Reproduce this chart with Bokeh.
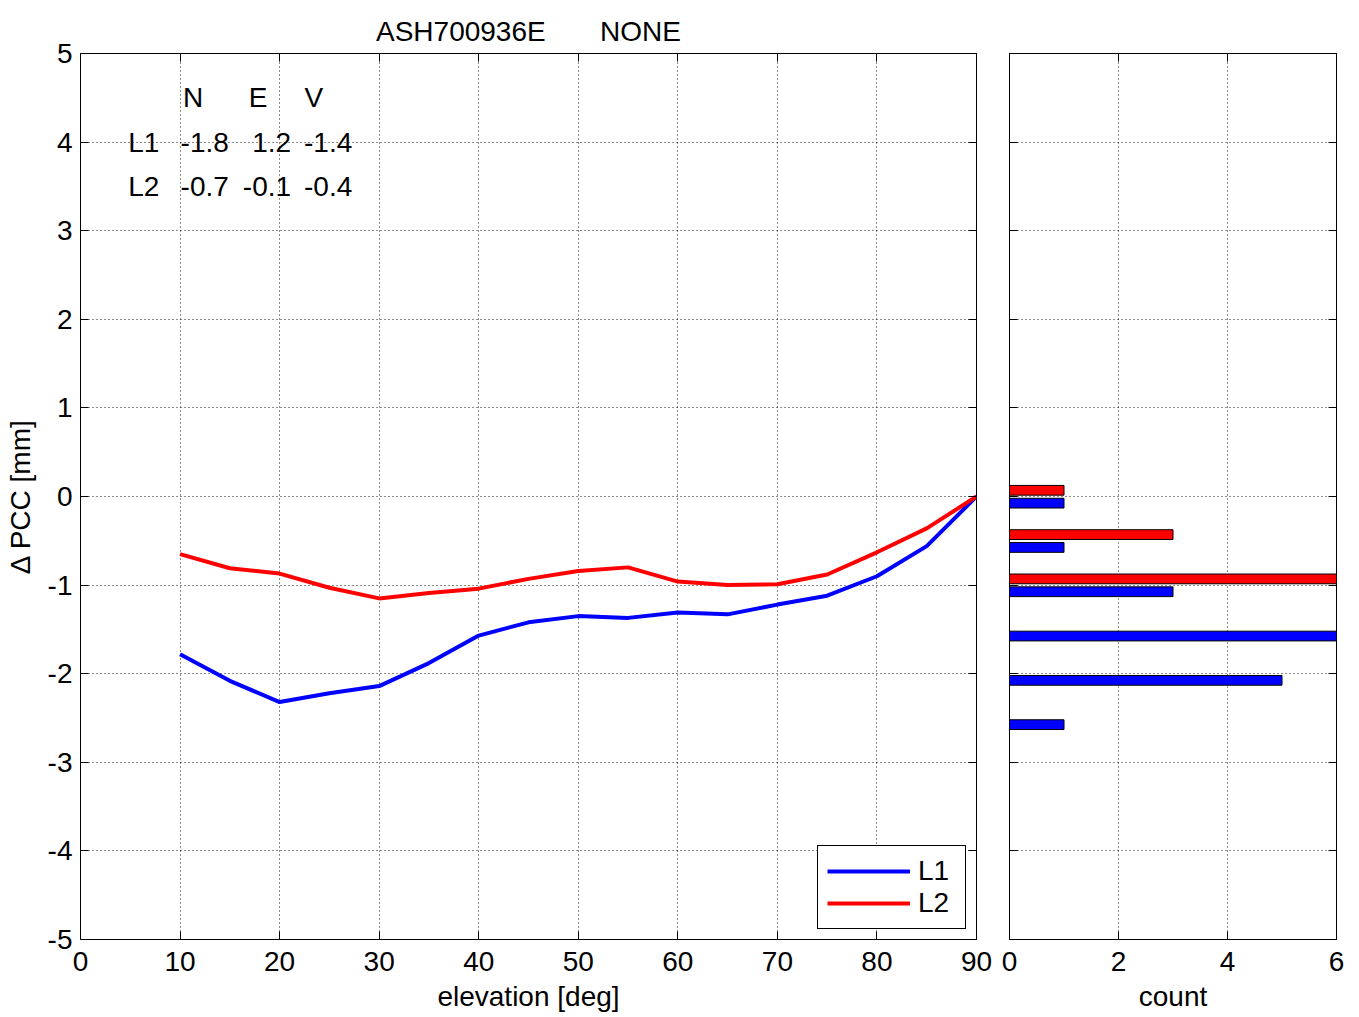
from bokeh.plotting import figure
from bokeh.models import Range1d, FixedTicker, LinearAxis, Legend, LegendItem, Label, PrintfTickFormatter
from bokeh.layouts import row
from bokeh.embed import file_html
from bokeh.resources import INLINE

# ---------------- data ----------------
elevation = [10, 15, 20, 25, 30, 35, 40, 45, 50, 55, 60, 65, 70, 75, 80, 85, 90]
pcc_L1 = [-1.78, -2.08, -2.32, -2.22, -2.14, -1.88, -1.57, -1.42, -1.35, -1.37,
          -1.31, -1.33, -1.22, -1.12, -0.90, -0.56, 0.0]
pcc_L2 = [-0.65, -0.81, -0.87, -1.03, -1.15, -1.09, -1.04, -0.93, -0.84, -0.80,
          -0.96, -1.00, -0.99, -0.88, -0.63, -0.36, 0.0]

bin_centers = [0.0, -0.5, -1.0, -1.5, -2.0, -2.5]
count_L1 = [1, 1, 3, 6, 5, 1]
count_L2 = [1, 3, 13, 0, 0, 0]

table_cols = ["N", "E", "V"]
table_rows = ["L1", "L2"]
table_vals = [[-1.8, 1.2, -1.4], [-0.7, -0.1, -0.4]]

x_ticks = list(range(0, 91, 10))
y_ticks = list(range(-5, 6))
count_ticks = [0, 2, 4, 6]
title_antenna = "ASH700936E"
title_radome = "NONE"
x_label = "elevation [deg]"
y_label = "\u0394 PCC [mm]"
count_label = "count"

# ---------------- style ----------------
FONT = "Liberation Sans"
FS = "28px"
BLUE = "#0000ff"
RED = "#ff0000"
GRID = "#000000"


def base_style(p, xt, yt, ylabels=True):
    p.outline_line_color = "black"
    p.outline_line_width = 1
    p.background_fill_color = "white"
    p.border_fill_color = "white"
    for ax in p.xaxis + p.yaxis:
        ax.major_tick_in = 8
        ax.major_tick_out = 0
        ax.minor_tick_in = 0
        ax.minor_tick_out = 0
        ax.axis_line_color = None
        ax.major_tick_line_color = "black"
        ax.major_label_text_font = FONT
        ax.major_label_text_font_size = FS
        ax.major_label_text_color = "black"
        ax.axis_label_text_font = FONT
        ax.axis_label_text_font_size = FS
        ax.axis_label_text_font_style = "normal"
        ax.axis_label_text_color = "black"
        ax.formatter = PrintfTickFormatter(format="%d")
    p.xaxis.ticker = FixedTicker(ticks=xt)
    p.yaxis.ticker = FixedTicker(ticks=yt)
    p.xaxis.major_label_standoff = 12
    p.yaxis.major_label_standoff = 8
    if not ylabels:
        p.yaxis.major_label_text_font_size = "0px"
        p.yaxis.major_label_standoff = 0
    p.xgrid.ticker = FixedTicker(ticks=xt)
    p.ygrid.ticker = FixedTicker(ticks=yt)
    p.grid.grid_line_color = GRID
    p.grid.grid_line_alpha = 0.9
    p.grid.grid_line_dash = "1 3"
    p.grid.grid_line_width = 1
    # mirrored ticks
    top = LinearAxis(ticker=FixedTicker(ticks=xt), major_label_text_font_size="0px",
                     major_label_standoff=0, major_tick_in=8, major_tick_out=0,
                     minor_tick_in=0, minor_tick_out=0, axis_line_color=None)
    right = LinearAxis(ticker=FixedTicker(ticks=yt), major_label_text_font_size="0px",
                       major_label_standoff=0, major_tick_in=8, major_tick_out=0,
                       minor_tick_in=0, minor_tick_out=0, axis_line_color=None)
    p.add_layout(top, "above")
    p.add_layout(right, "right")


# ---------------- main plot ----------------
p = figure(frame_width=896, frame_height=886, output_backend="svg", toolbar_location=None,
           x_range=Range1d(0, 90), y_range=Range1d(-5, 5),
           min_border_left=80, min_border_right=16, min_border_top=53, min_border_bottom=76)
# title: two parts separated by a wide gap (non-breaking spaces keep the gap in SVG)
p.title.text = title_antenna + "\u00a0" * 7 + title_radome
p.title.text_font = FONT
p.title.text_font_size = FS
p.title.text_font_style = "normal"
p.title.text_color = "black"
p.title.align = "center"
p.title.vertical_align = "top"
p.title.text_baseline = "middle"
p.title.standoff = 10
p.xaxis.axis_label = x_label
p.yaxis.axis_label = y_label
base_style(p, x_ticks, y_ticks)
p.xaxis.axis_label_standoff = 7
p.yaxis.axis_label_standoff = 9

r1 = p.line(elevation, pcc_L1, line_color=BLUE, line_width=4)
r2 = p.line(elevation, pcc_L2, line_color=RED, line_width=4)

legend = Legend(items=[LegendItem(label="L1", renderers=[r1]),
                       LegendItem(label="L2", renderers=[r2])],
                location="bottom_right")
legend.label_text_font = FONT
legend.label_text_font_size = FS
legend.label_text_color = "black"
legend.glyph_width = 83
legend.glyph_height = 30
legend.label_height = 30
legend.label_width = 38
legend.label_standoff = 8
legend.spacing = 0
legend.padding = 9
legend.margin = 10
legend.border_line_color = "black"
legend.border_line_width = 1
legend.border_line_alpha = 1.0
legend.background_fill_alpha = 1.0
p.add_layout(legend)

# text table of offsets
header_y = 4.5
row_y = [4.0, 3.5]
col_header_x = [10.3, 16.9, 22.5]
col_value_x = [14.9, 21.15, 27.3]
row_label_x = 4.8
for j, c in enumerate(table_cols):
    p.add_layout(Label(x=col_header_x[j], y=header_y, text=c, text_font=FONT,
                       text_font_size=FS, text_color="black",
                       text_baseline="middle", text_align="left"))
for i, rname in enumerate(table_rows):
    p.add_layout(Label(x=row_label_x, y=row_y[i], text=rname, text_font=FONT,
                       text_font_size=FS, text_color="black",
                       text_baseline="middle", text_align="left"))
    for j in range(len(table_cols)):
        p.add_layout(Label(x=col_value_x[j], y=row_y[i], text=f"{table_vals[i][j]:.1f}",
                           text_font=FONT, text_font_size=FS, text_color="black",
                           text_baseline="middle", text_align="right"))

# ---------------- histogram ----------------
h = figure(frame_width=327, frame_height=886, output_backend="svg", toolbar_location=None,
           x_range=Range1d(0, 6), y_range=Range1d(-5, 5),
           min_border_left=17, min_border_right=15, min_border_top=53, min_border_bottom=76)
h.xaxis.axis_label = count_label
base_style(h, count_ticks, y_ticks, ylabels=False)
h.xaxis.axis_label_standoff = 7

bar_h = 0.11
l1 = [(b - 0.075, c) for b, c in zip(bin_centers, count_L1) if c > 0]
l2 = [(b + 0.07, c) for b, c in zip(bin_centers, count_L2) if c > 0]
h.hbar(y=[v[0] for v in l1], right=[v[1] for v in l1], left=0, height=bar_h,
       fill_color=BLUE, line_color="black", line_width=1)
h.hbar(y=[v[0] for v in l2], right=[v[1] for v in l2], left=0, height=bar_h,
       fill_color=RED, line_color="black", line_width=1)

layout = row(p, h)
open("out.html", "w").write(file_html(layout, INLINE))
